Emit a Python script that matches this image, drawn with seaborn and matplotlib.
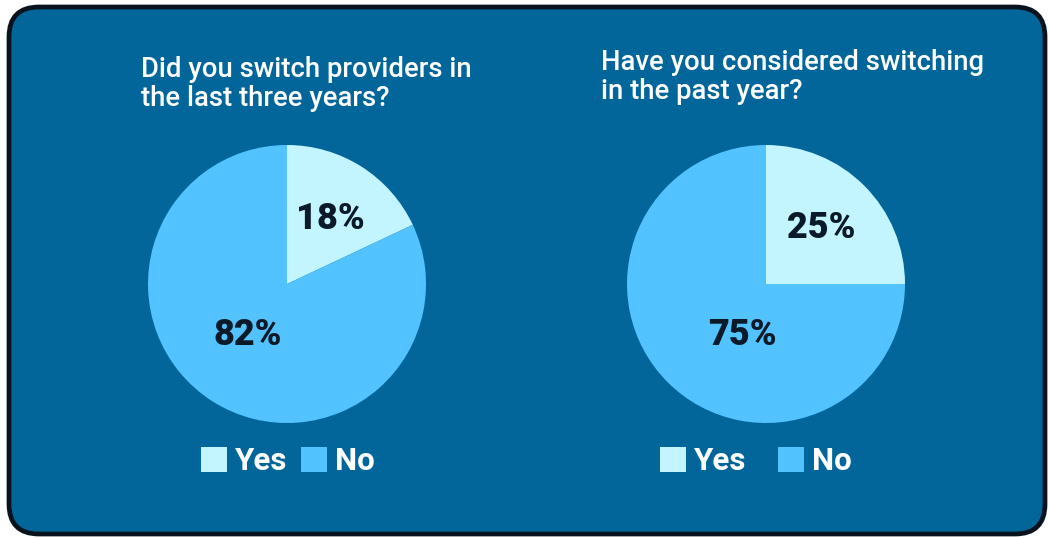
import matplotlib
matplotlib.use("Agg")
import matplotlib.pyplot as plt
from matplotlib.patches import FancyBboxPatch
import seaborn as sns

# Survey answers
answers = ["Yes", "No"]
switched_last_3_years = [18, 82]
considered_past_year = [25, 75]
questions = [
    ["Did you switch providers in", "the last three years?"],
    ["Have you considered switching", "in the past year?"],
]

W, H = 1049, 538
CARD = "#02669a"
YES_C = "#c2f5ff"
NO_C = "#52c3ff"
INK = "#0b1a28"

sns.set_theme(style="white")
plt.rcParams["font.family"] = ["Roboto", "DejaVu Sans"]
palette = sns.color_palette([YES_C, NO_C])

fig = plt.figure(figsize=(W / 100, H / 100), dpi=100, facecolor="white")

# background card in pixel coordinates (y measured from the top)
bg = fig.add_axes([0, 0, 1, 1])
bg.set_xlim(0, W)
bg.set_ylim(H, 0)
bg.axis("off")
bg.add_patch(FancyBboxPatch((9, 7), 1036, 527,
                            boxstyle="round,pad=0,rounding_size=30",
                            facecolor=CARD, edgecolor="#08131d", linewidth=3.4))

panels = [
    dict(values=switched_last_3_years, q=questions[0], cx=287, cy=284,
         tx=141, ty=(77, 106), pct_pos=[(0.31, 0.47), (-0.28, -0.37)],
         leg_x=288, colsp=0.45),
    dict(values=considered_past_year, q=questions[1], cx=766, cy=284,
         tx=601, ty=(70, 99), pct_pos=[(0.40, 0.40), (-0.17, -0.37)],
         leg_x=756, colsp=1.02),
]
R = 139

for p in panels:
    # question title, one line at a time
    for line, y in zip(p["q"], p["ty"]):
        bg.text(p["tx"], y, line, color="white", fontsize=19.8,
                fontweight="medium", ha="left", va="baseline")

    ax = fig.add_axes([(p["cx"] - R) / W, (H - p["cy"] - R) / H,
                       2 * R / W, 2 * R / H])
    wedges, _, autotexts = ax.pie(
        p["values"], colors=palette, startangle=90, counterclock=False,
        autopct="%d%%", wedgeprops=dict(linewidth=0),
        textprops=dict(color=INK, fontsize=26, fontweight="heavy"))
    ax.set_xlim(-1, 1)
    ax.set_ylim(-1, 1)
    ax.axis("off")
    for w in wedges:
        w.set_clip_on(False)
    for t, (x, y) in zip(autotexts, p["pct_pos"]):
        t.set_position((x, y))

    leg = ax.legend(wedges, answers, ncol=2, frameon=False,
                    loc="center", bbox_to_anchor=((p["leg_x"] - p["cx"] + R) / (2 * R),
                                                   (p["cy"] + R - 461) / (2 * R)),
                    prop=dict(weight="bold", size=22.5),
                    handlelength=0.83, handleheight=0.86,
                    handletextpad=0.26, columnspacing=p["colsp"], borderaxespad=0)
    for txt in leg.get_texts():
        txt.set_color("white")

fig.savefig("out.png", dpi=100, facecolor="white")
